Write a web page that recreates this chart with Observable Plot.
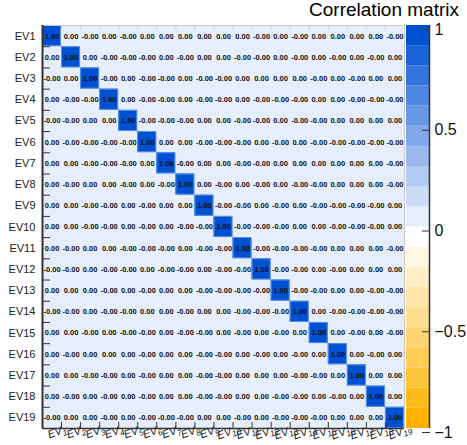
<!DOCTYPE html>
<html><head><meta charset="utf-8">
<script src="https://cdn.jsdelivr.net/npm/d3@7"></script>
<script src="https://cdn.jsdelivr.net/npm/@observablehq/plot@0.6"></script>
<style>
body{margin:0;background:#fff;}
#wrap{position:relative;width:467px;height:445px;overflow:hidden;font-family:"Liberation Sans",Arial,Helvetica,sans-serif;}
#wrap svg{position:absolute;left:0;top:0;}
#title{position:absolute;right:8px;top:0px;font-size:19px;line-height:20px;color:#000;z-index:5;}
</style></head><body>
<div id="wrap"><div id="title">Correlation matrix</div></div>
<script>
// ---- data ----
const rowLabels = ["EV1","EV2","EV3","EV4","EV5","EV6","EV7","EV8","EV9","EV10","EV11","EV12","EV13","EV14","EV15","EV16","EV17","EV18","EV19"];
const colLabels = ["EV_{1}","EV_{2}","EV_{3}","EV_{4}","EV_{5}","EV_{6}","EV_{7}","EV_{8}","EV_{9}","EV_{10}","EV_{11}","EV_{12}","EV_{13}","EV_{14}","EV_{15}","EV_{16}","EV_{17}","EV_{18}","EV_{19}"];
const corr = [
  [ 1, 0,-0, 0,-0, 0, 0, 0, 0, 0, 0,-0, 0,-0, 0, 0, 0, 0,-0],
  [ 0, 1, 0,-0,-0,-0, 0,-0, 0, 0,-0,-0, 0,-0, 0,-0, 0,-0, 0],
  [-0, 0, 1,-0, 0,-0,-0, 0,-0,-0, 0, 0, 0, 0,-0, 0,-0, 0, 0],
  [ 0,-0,-0, 1, 0,-0,-0, 0,-0,-0, 0,-0,-0,-0, 0, 0,-0,-0,-0],
  [-0,-0, 0, 0, 1,-0,-0,-0, 0, 0,-0,-0, 0,-0,-0, 0, 0, 0, 0],
  [ 0,-0,-0,-0,-0, 1, 0, 0,-0,-0,-0, 0,-0, 0,-0,-0,-0,-0,-0],
  [ 0, 0,-0,-0,-0, 0, 1,-0, 0, 0,-0,-0, 0, 0, 0, 0, 0, 0,-0],
  [ 0,-0, 0, 0,-0, 0,-0, 1, 0,-0, 0,-0, 0,-0,-0, 0, 0, 0,-0],
  [ 0, 0,-0,-0, 0,-0, 0, 0, 1,-0,-0, 0,-0, 0,-0,-0,-0,-0, 0],
  [ 0, 0,-0,-0, 0,-0, 0,-0,-0, 1,-0,-0,-0, 0, 0,-0,-0,-0, 0],
  [ 0,-0, 0, 0,-0,-0,-0, 0,-0,-0, 1,-0,-0,-0,-0, 0, 0, 0,-0],
  [-0,-0, 0,-0,-0, 0,-0,-0, 0,-0,-0, 1,-0,-0, 0,-0, 0, 0, 0],
  [ 0, 0, 0,-0, 0,-0, 0, 0,-0,-0,-0,-0, 1,-0,-0, 0, 0,-0,-0],
  [-0,-0, 0,-0,-0, 0, 0,-0, 0, 0,-0,-0,-0, 1, 0,-0,-0,-0,-0],
  [ 0, 0,-0, 0,-0,-0, 0,-0,-0, 0,-0, 0,-0, 0, 1, 0,-0, 0,-0],
  [ 0,-0, 0, 0, 0,-0, 0, 0,-0,-0, 0,-0, 0,-0, 0, 1, 0,-0, 0],
  [ 0, 0,-0,-0, 0,-0, 0, 0,-0,-0, 0, 0, 0,-0,-0, 0, 1, 0, 0],
  [ 0,-0, 0,-0, 0,-0, 0, 0,-0,-0, 0, 0,-0,-0, 0,-0, 0, 1, 0],
  [-0, 0, 0,-0, 0,-0,-0,-0, 0, 0,-0, 0,-0,-0,-0, 0, 0, 0, 1]
];
const barTicks = [-1, -0.5, 0, 0.5, 1];

// ---- style / scales ----
const FONT = '"Liberation Sans",Arial,Helvetica,sans-serif';
const W = 467, H = 445;
const n = rowLabels.length;
const thresholds = d3.range(-9, 10).map(k => k / 10);
const negEnd = "rgb(255,178,0)", posEnd = "rgb(0,80,210)";
const colors = d3.range(20).map(i => i < 10
  ? d3.interpolateRgb("white", negEnd)((9 - i) / 9)
  : d3.interpolateRgb("white", posEnd)((i - 9) / 10));
const colorSpec = {type: "threshold", domain: thresholds, range: colors};

const fmt = v => ((v < 0 || Object.is(v, -0)) ? "-" : "") + Math.abs(v).toFixed(2);
const fmtBar = v => v < 0 ? "\u2212" + Math.abs(v) : String(v);

const cells = corr.flatMap((row, r) => row.map((v, c) => ({row: r + 1, col: c + 1, v})));
const idx = d3.range(1, n + 1);
const inner = d3.range(1, n).map(k => k + 0.5);

const main = Plot.plot({
  width: W, height: H,
  marginLeft: 42, marginRight: 63, marginTop: 25, marginBottom: 17,
  x: {domain: [0.5, n + 0.5], axis: null},
  y: {domain: [0.5, n + 0.5], reverse: true, axis: null},
  color: colorSpec,
  style: {fontFamily: FONT, background: "white"},
  marks: [
    Plot.rect(cells, {x1: d => d.col - 0.5, x2: d => d.col + 0.5, y1: d => d.row - 0.5, y2: d => d.row + 0.5, fill: "v"}),
    Plot.rect(cells.filter(d => d.v >= 0.995), {x1: d => d.col - 0.5, x2: d => d.col + 0.5, y1: d => d.row - 0.5, y2: d => d.row + 0.5, fill: "v", stroke: "#5b93e4", strokeWidth: 1, inset: 0.5}),
    Plot.text(cells, {x: "col", y: "row", text: d => fmt(d.v), fontSize: 7.5, fontWeight: "bold", fill: "#111"}),
    Plot.ruleY([0.5], {stroke: "#c8c8c8"}),
    Plot.ruleX([n + 0.5], {stroke: "#c8c8c8"}),
    Plot.axisX({anchor: "top", ticks: inner, tickSize: -4, tickFormat: () => "", label: null, stroke: "#cfcfcf"}),
    Plot.axisY({anchor: "left", ticks: inner, tickSize: -8, tickFormat: () => "", label: null, stroke: "#333"}),
    Plot.axisX({anchor: "bottom", ticks: inner, tickSize: -6, tickFormat: () => "", label: null, stroke: "#333"}),
    Plot.axisY({anchor: "left", ticks: idx, tickSize: 0, tickPadding: 7, tickFormat: i => rowLabels[i - 1], label: null, fontSize: 11, fill: "#222"}),
    Plot.axisX({anchor: "bottom", ticks: idx, tickSize: 0, tickPadding: 0, tickFormat: i => colLabels[i - 1], label: null, fontSize: 11, fontStyle: "italic", tickRotate: -20, textAnchor: "middle", lineAnchor: "middle", dy: 3.5, dx: 5, fill: "#222"}),
    Plot.ruleX([0.5], {stroke: "#333", strokeWidth: 2}),
    Plot.ruleY([n + 0.5], {stroke: "#333", strokeWidth: 1.5})
  ]
});

// render TLatex-style subscripts "EV_{k}" as real text with a subscript tspan
const SVGNS = "http://www.w3.org/2000/svg";
main.querySelectorAll("text").forEach(t => {
  const m = t.textContent.match(/^(.*)_\{(.*)\}$/);
  if (!m) return;
  while (t.firstChild) t.removeChild(t.firstChild);
  t.appendChild(document.createTextNode(m[1]));
  const ts = document.createElementNS(SVGNS, "tspan");
  ts.setAttribute("dy", "0.3em");
  ts.setAttribute("font-size", "0.75em");
  ts.textContent = m[2];
  t.appendChild(ts);
});

const bins = d3.range(-10, 10).map(k => ({lo: k / 10, hi: (k + 1) / 10}));
const bar = Plot.plot({
  width: W, height: H,
  marginLeft: 406, marginRight: 38, marginTop: 25, marginBottom: 17,
  x: {domain: [0, 1], axis: null},
  y: {domain: [-1, 1], axis: null},
  color: colorSpec,
  style: {fontFamily: FONT, background: "transparent"},
  marks: [
    Plot.rect(bins, {y1: "lo", y2: "hi", fill: d => (d.lo + d.hi) / 2}),
    Plot.ruleX([1], {stroke: "#333", strokeWidth: 1.5}),
    Plot.axisY({anchor: "right", ticks: barTicks, tickSize: -8, tickPadding: 13, tickFormat: fmtBar, label: null, fontSize: 16, dy: 4, stroke: "#333", fill: "#111"})
  ]
});

const wrap = document.getElementById("wrap");
wrap.appendChild(main);
wrap.appendChild(bar);
</script>
</body></html>
